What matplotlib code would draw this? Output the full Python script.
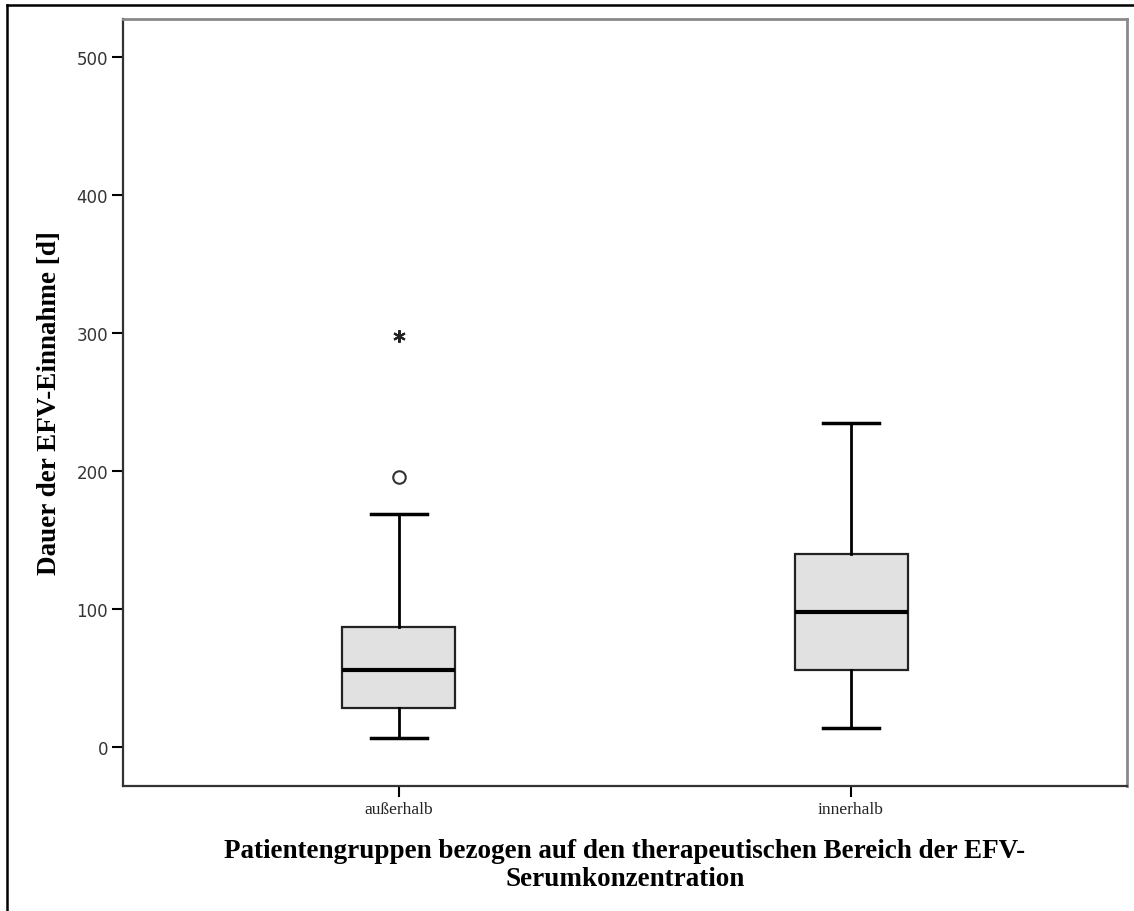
import matplotlib.pyplot as plt
from matplotlib.lines import Line2D

# Daten
gruppen = ['außerhalb', 'innerhalb']
whisker_unten = [7.0, 13.8]
q1 = [28.5, 56.2]
median = [56.3, 97.7]
q3 = [87.1, 140.0]
whisker_oben = [168.9, 234.8]
ausreisser = [[195.7], []]      # Kreis
extremwerte = [[298.0], []]     # Stern

y_ticks = [0, 100, 200, 300, 400, 500]

fig = plt.figure(figsize=(11.34, 9.12), dpi=100)
ax = fig.add_axes([0.1087, 0.1374, 0.8849, 0.8406])

stats = []
for i, name in enumerate(gruppen):
    stats.append({'label': name, 'whislo': whisker_unten[i], 'q1': q1[i],
                  'med': median[i], 'q3': q3[i], 'whishi': whisker_oben[i],
                  'fliers': ausreisser[i]})

pos = [1, 2]
ax.bxp(stats, positions=pos, widths=0.25, patch_artist=True, capwidths=0.124,
       boxprops=dict(facecolor='#e1e1e1', edgecolor='#222222', linewidth=1.6),
       medianprops=dict(color='black', linewidth=3),
       whiskerprops=dict(color='black', linewidth=2),
       capprops=dict(color='black', linewidth=2.5),
       flierprops=dict(marker='o', markerfacecolor='white', markeredgecolor='#333333',
                       markersize=9, markeredgewidth=1.5))

# Extremwerte als Stern
for p, werte in zip(pos, extremwerte):
    ax.plot([p] * len(werte), werte, marker=(6, 2, 0), linestyle='none',
            color='#222222', markersize=9, markeredgewidth=1.5)

ax.set_xlim(0.39, 2.61)
ax.set_ylim(-27.8, 527.3)
ax.set_yticks(y_ticks)
ax.set_xticks(pos)
ax.set_xticklabels(gruppen, family='Liberation Serif', fontsize=12.5, color='#222222')
ax.tick_params(axis='y', length=8, width=1.5, labelsize=12, labelcolor='#333333', pad=3)
ax.tick_params(axis='x', length=8, width=1.5, pad=3)

# Rahmen im SPSS-Stil
for s in ['left', 'bottom']:
    ax.spines[s].set_color('#333333')
    ax.spines[s].set_linewidth(1.6)
for s in ['top', 'right']:
    ax.spines[s].set_color('#8a8a8a')
    ax.spines[s].set_linewidth(2)

ax.set_ylabel('Dauer der EFV-Einnahme [d]', family='Liberation Serif',
              fontweight='bold', fontsize=19.5, labelpad=10)
ax.set_xlabel('Patientengruppen bezogen auf den therapeutischen Bereich der EFV-\nSerumkonzentration',
              family='Liberation Serif', fontweight='bold', fontsize=19.5, labelpad=15,
              linespacing=1.15)

# äußerer Rahmen (links und oben)
fig.add_artist(Line2D([0.0059, 0.0059], [0, 0.9934], transform=fig.transFigure,
                      color='black', linewidth=1.8))
fig.add_artist(Line2D([0.0059, 1.0], [0.9934, 0.9934], transform=fig.transFigure,
                      color='black', linewidth=1.8))

fig.savefig('out.png', dpi=100)
